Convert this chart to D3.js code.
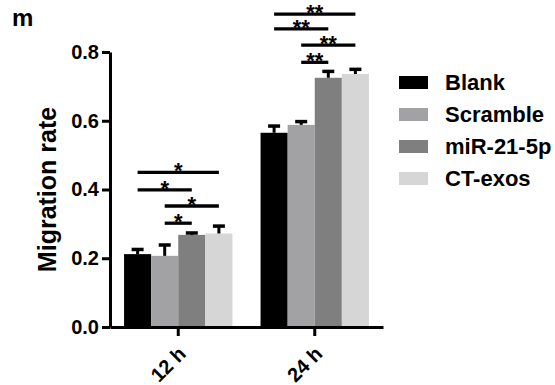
<!DOCTYPE html>
<html>
<head>
<meta charset="utf-8">
<script src="https://cdn.jsdelivr.net/npm/d3@7"></script>
<style>
  html, body { margin: 0; padding: 0; background: #fff; }
  svg { display: block; font-family: "Liberation Sans", Arial, sans-serif; font-weight: bold; }
</style>
</head>
<body>
<svg id="chart" width="555" height="385"></svg>
<script>
// Migration rate bar chart, grouped by time point.

const timePoints = ["12 h", "24 h"];
const groups = ["Blank", "Scramble", "miR-21-5p", "CT-exos"];
const groupColors = ["#000000", "#a2a2a5", "#7f7f7f", "#d6d6d6"];

// mean values per time point, in group order
const means = {
  "12 h": [0.212, 0.207, 0.268, 0.272],
  "24 h": [0.565, 0.588, 0.725, 0.736],
};
// upper error (mean + sd)
const errTops = {
  "12 h": [0.227, 0.240, 0.275, 0.295],
  "24 h": [0.586, 0.599, 0.745, 0.751],
};

// significance brackets: [time, fromGroup, toGroup, level, label]
const brackets = [
  ["12 h", 0, 3, 0.450, "*"],
  ["12 h", 0, 2, 0.399, "*"],
  ["12 h", 1, 3, 0.352, "*"],
  ["12 h", 1, 2, 0.302, "*"],
  ["24 h", 0, 3, 0.910, "**"],
  ["24 h", 0, 2, 0.867, "**"],
  ["24 h", 1, 3, 0.820, "**"],
  ["24 h", 1, 2, 0.770, "**"],
];

const yTicks = [0, 0.2, 0.4, 0.6, 0.8];

const svg = d3.select("#chart");

const y = d3.scaleLinear().domain([0, 0.8]).range([327, 52]);
const x0 = d3.scaleBand().domain(timePoints).range([110, 383])
  .paddingInner(0.206).paddingOuter(0.103);
const x1 = d3.scaleBand().domain(groups).range([0, x0.bandwidth()]).padding(0);

const barCenter = (t, i) => x0(t) + x1(groups[i]) + x1.bandwidth() / 2;

// bars
const rows = timePoints.flatMap((t) => groups.map((g, i) => ({ t, g, i, v: means[t][i], e: errTops[t][i] })));

svg.append("g")
  .selectAll("rect")
  .data(rows)
  .join("rect")
  .attr("x", (d) => x0(d.t) + x1(d.g))
  .attr("width", x1.bandwidth())
  .attr("y", (d) => y(d.v))
  .attr("height", (d) => y(0) - y(d.v))
  .attr("fill", (d) => groupColors[d.i]);

// error bars (upper only)
const err = svg.append("g").attr("stroke", "#000").attr("stroke-width", 3);
err.selectAll("line.stem")
  .data(rows)
  .join("line")
  .attr("class", "stem")
  .attr("x1", (d) => barCenter(d.t, d.i))
  .attr("x2", (d) => barCenter(d.t, d.i))
  .attr("y1", (d) => y(d.v))
  .attr("y2", (d) => y(d.e));
err.selectAll("line.cap")
  .data(rows)
  .join("line")
  .attr("class", "cap")
  .attr("x1", (d) => barCenter(d.t, d.i) - 6)
  .attr("x2", (d) => barCenter(d.t, d.i) + 6)
  .attr("y1", (d) => y(d.e) + 0.5)
  .attr("y2", (d) => y(d.e) + 0.5)
  .attr("stroke-width", 3.5);

// significance brackets
const sig = svg.append("g");
sig.selectAll("line")
  .data(brackets)
  .join("line")
  .attr("x1", (d) => barCenter(d[0], d[1]))
  .attr("x2", (d) => barCenter(d[0], d[2]))
  .attr("y1", (d) => y(d[3]))
  .attr("y2", (d) => y(d[3]))
  .attr("stroke", "#000")
  .attr("stroke-width", 3.3);
sig.selectAll("text")
  .data(brackets)
  .join("text")
  .attr("x", (d) => (barCenter(d[0], d[1]) + barCenter(d[0], d[2])) / 2)
  // keep the topmost stars inside the picture
  .attr("y", (d) => Math.max(y(d[3]) + 6, 20))
  .attr("text-anchor", "middle")
  .style("font-size", "22px")
  .text((d) => d[4]);

// axes
const axisFont = (sel, size) => sel
  .attr("fill", "#000")
  .style("font-size", size)
  .style("font-family", "'Liberation Sans', Arial, sans-serif")
  .style("font-weight", "bold");

const yAxis = d3.axisLeft(y).tickValues(yTicks).tickFormat(d3.format(".1f"))
  .tickSize(8).tickSizeOuter(0).tickPadding(3);
const gy = svg.append("g").attr("transform", "translate(110,0)").call(yAxis);
gy.select(".domain").attr("stroke-width", 3);
gy.selectAll(".tick line").attr("stroke-width", 3);
axisFont(gy.selectAll(".tick text"), "20px");

const xAxis = d3.axisBottom(x0).tickSize(9).tickSizeOuter(0);
const gx = svg.append("g").attr("transform", "translate(0,327)").call(xAxis);
gx.select(".domain").attr("stroke-width", 3);
gx.selectAll(".tick line").attr("stroke-width", 3);
axisFont(gx.selectAll(".tick text"), "20px")
  .attr("text-anchor", "end")
  .attr("x", 0)
  .attr("y", 0)
  .attr("dy", 0)
  .attr("transform", "translate(9,28) rotate(-45)");

// y axis title
svg.append("text")
  .attr("transform", `translate(56,${(y(0) + y(0.8)) / 2}) rotate(-90)`)
  .attr("text-anchor", "middle")
  .style("font-size", "25px")
  .text("Migration rate");

// panel letter
svg.append("text")
  .attr("x", 12)
  .attr("y", 26)
  .style("font-size", "24px")
  .text("m");

// legend
const legend = svg.append("g")
  .selectAll("g")
  .data(groups)
  .join("g")
  .attr("transform", (d, i) => `translate(399,${90 + i * 32})`);
legend.append("rect")
  .attr("x", 0)
  .attr("y", -14)
  .attr("width", 29)
  .attr("height", 13)
  .attr("fill", (d, i) => groupColors[i]);
legend.append("text")
  .attr("x", 46)
  .attr("y", 0)
  .style("font-size", "22px")
  .text((d) => d);
</script>
</body>
</html>
